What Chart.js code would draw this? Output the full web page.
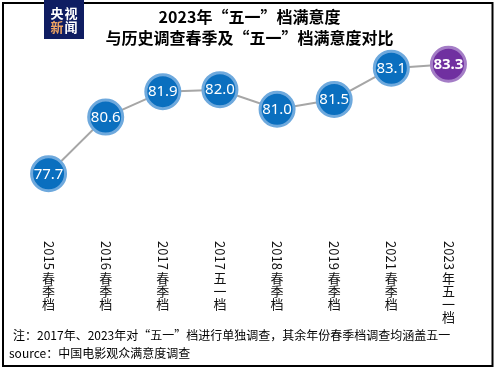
<!DOCTYPE html>
<html><head><meta charset="utf-8">
<script src="https://cdn.jsdelivr.net/npm/chart.js@4.4.1/dist/chart.umd.min.js"></script>
<style>html,body{margin:0;padding:0;background:#fff;overflow:hidden}</style>
</head><body>
<canvas id="c" width="497" height="370"></canvas>
<script>
const categories = ['2015春季档','2016春季档','2017春季档','2017五一档','2018春季档','2019春季档','2021春季档','2023年五一档'];
const satisfaction = [77.7, 80.6, 81.9, 82.0, 81.0, 81.5, 83.1, 83.3];
const highlightIndex = 7;
const titleLines = ['2023年“五一”档满意度', '与历史调查春季及“五一”档满意度对比'];
const noteLine = '注：2017年、2023年对“五一”档进行单独调查，其余年份春季档调查均涵盖五一';
const sourceLine = 'source：中国电影观众满意度调查';
const logoTop = ['央', '视'];
const logoBottom = ['新', '闻'];

const CJK = '"Noto Sans CJK SC", "Noto Sans", sans-serif';
const BLUE = '#0a6fbf', BLUE_EDGE = '#6ea9dd', PURPLE = '#7030a0', PURPLE_EDGE = '#a47dc6';

const fills = satisfaction.map((v, i) => i === highlightIndex ? PURPLE : BLUE);
const edges = satisfaction.map((v, i) => i === highlightIndex ? PURPLE_EDGE : BLUE_EDGE);

const decor = {
  id: 'decor',
  afterDatasetsDraw(chart) {
    const ctx = chart.ctx;
    const meta = chart.getDatasetMeta(0);
    ctx.save();
    ctx.fillStyle = '#fff';
    ctx.textAlign = 'center';
    ctx.textBaseline = 'middle';
    meta.data.forEach((pt, i) => {
      ctx.font = (i === highlightIndex ? 'bold ' : '') + '15px "Noto Sans", sans-serif';
      ctx.fillText(satisfaction[i].toFixed(1), pt.x, pt.y + 0.5);
    });
    ctx.restore();
  },
  afterDraw(chart) {
    const ctx = chart.ctx;
    const xs = chart.scales.x;
    const labelTop = chart.chartArea.bottom + 34;
    ctx.save();
    // vertical category labels
    ctx.fillStyle = '#111';
    ctx.font = '13px ' + CJK;
    categories.forEach((lab, i) => {
      const x = xs.getPixelForValue(i);
      const m = lab.match(/^(\d+)(.*)$/);
      const digits = m ? m[1] : '';
      const rest = m ? m[2] : lab;
      ctx.save();
      ctx.translate(x, labelTop);
      ctx.rotate(Math.PI / 2);
      ctx.textAlign = 'left';
      ctx.textBaseline = 'middle';
      ctx.fillText(digits, 0, 0);
      const w = ctx.measureText(digits).width;
      ctx.restore();
      ctx.textAlign = 'center';
      ctx.textBaseline = 'middle';
      [...rest].forEach((ch, k) => {
        ctx.fillText(ch, x, labelTop + w + 2 + 6.5 + k * 13);
      });
    });
    // footer
    ctx.fillStyle = '#000';
    ctx.textAlign = 'left';
    ctx.textBaseline = 'middle';
    ctx.font = '12px ' + CJK;
    ctx.fillText(noteLine, 13, 335);
    ctx.fillText(sourceLine, 9, 353);
    // frame
    ctx.strokeStyle = '#000';
    ctx.lineWidth = 2;
    ctx.strokeRect(3, 3, 489.5, 363);
    // logo
    ctx.fillStyle = '#0f1d62';
    ctx.fillRect(44, 0, 40, 39);
    ctx.font = 'bold 13px ' + CJK;
    ctx.textAlign = 'center';
    ctx.fillStyle = '#fff';
    ctx.fillText(logoTop[0], 57, 13);
    ctx.fillText(logoTop[1], 71, 13);
    ctx.fillStyle = '#eea462';
    ctx.fillText(logoBottom[0], 57, 27.5);
    ctx.fillStyle = '#fff';
    ctx.fillText(logoBottom[1], 71, 27.5);
    ctx.restore();
  }
};

new Chart(document.getElementById('c'), {
  type: 'line',
  data: {
    labels: categories,
    datasets: [{
      data: satisfaction,
      borderColor: '#a6a6a6',
      borderWidth: 2,
      tension: 0,
      clip: false,
      pointRadius: 17,
      pointHoverRadius: 17,
      pointBorderWidth: 3,
      pointBackgroundColor: fills,
      pointBorderColor: edges
    }]
  },
  options: {
    responsive: false,
    animation: false,
    events: [],
    layout: { padding: { left: 19, right: 17, top: 0, bottom: 163 } },
    plugins: {
      legend: { display: false },
      tooltip: { enabled: false },
      title: {
        display: true,
        text: titleLines,
        color: '#000',
        font: { family: CJK, size: 16, weight: 'bold', lineHeight: 1.3 },
        padding: { top: 7, bottom: 2 }
      }
    },
    scales: {
      x: { type: 'category', offset: true, display: false },
      y: { display: false, min: 76, max: 84 }
    }
  },
  plugins: [decor]
});
</script>
</body></html>
